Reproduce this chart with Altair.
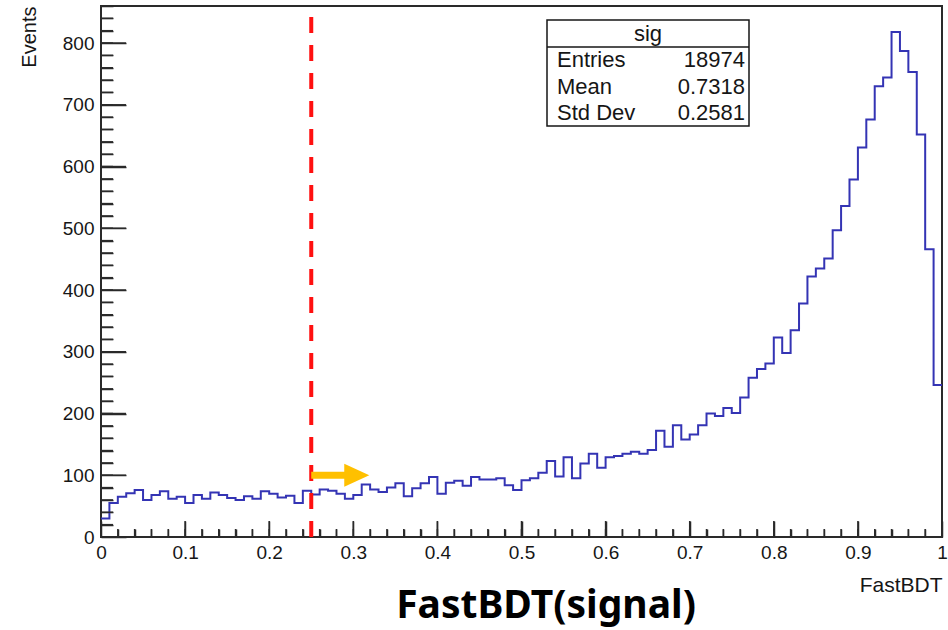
import altair as alt
import pandas as pd

# ---------------- data ----------------
counts = [30, 55, 65, 71, 76, 60, 68, 74, 62, 65,
          55, 68, 62, 72, 68, 63, 60, 66, 62, 74,
          70, 64, 67, 55, 75, 69, 77, 75, 70, 62,
          68, 85, 77, 73, 80, 87, 66, 79, 87, 97,
          70, 88, 91, 83, 97, 93, 93, 95, 84, 76,
          92, 95, 104, 123, 98, 129, 95, 119, 135, 112,
          129, 131, 135, 138, 135, 141, 172, 146, 181, 158,
          166, 181, 200, 196, 209, 201, 226, 258, 272, 281,
          323, 298, 335, 378, 422, 435, 451, 497, 536, 579,
          631, 676, 730, 744, 818, 787, 753, 652, 466, 246]
n_bins = 100
x_range = [0.0, 1.0]
y_max = 860

x_major = [round(0.1 * i, 1) for i in range(11)]
x_minor = [round(0.02 * i, 2) for i in range(51)]
y_major = list(range(0, 801, 100))
y_minor = list(range(0, 861, 20))

cut_x = [0.25]
arrow_x = [0.25, 0.319]
arrow_y = [100]

stat_title = ["sig"]
stat_names = ["Entries", "Mean", "Std Dev"]
stat_values = ["18974", "0.7318", "0.2581"]

title_text = ["FastBDT(signal)"]
x_title = "FastBDT"
y_title = "Events"

# ---------------- layout ----------------
W, H = 841, 531
PAD = {"left": 101, "top": 6, "right": 6, "bottom": 93}
FONT = "Liberation Sans"
BLUE = "#3434B4"
RED = "#FF1010"
ORANGE = "#FFC000"
INK = "#161616"
TICK = "#2a2a2a"
XT_MAJ, XT_MIN = 16, 8     # x tick lengths (px), drawn inward
YT_MAJ, YT_MIN = 25, 12    # y tick lengths (px), drawn inward

edges = [x_range[0] + (x_range[1] - x_range[0]) * i / n_bins for i in range(n_bins + 1)]
hist_df = pd.DataFrame({"x": edges, "n": counts + [counts[-1]]})

x_scale = alt.Scale(domain=x_range, nice=False, zero=False)
y_scale = alt.Scale(domain=[0, y_max], nice=False, zero=True)

x_is_major = "abs(datum.value * 10 - round(datum.value * 10)) < 1e-6"
y_is_major = "datum.value % 100 === 0 && datum.value <= 800"

# Axes are pulled inside the frame by their tick length, so ticks point inward;
# minor ticks are shortened with a leading dash gap.
X_AXIS = alt.Axis(
    orient="bottom", offset=-XT_MAJ, values=x_minor, format="~g",
    ticks=True, tickSize=XT_MAJ, tickColor=TICK, tickWidth=1.5,
    tickDash={"condition": {"test": "!(" + x_is_major + ")",
                            "value": [0, XT_MAJ - XT_MIN, XT_MIN]},
              "value": [1, 0]},
    labelExpr=x_is_major + " ? datum.label : ''",
    domain=False, grid=False, labelFont=FONT, labelFontSize=19, labelColor=INK,
    labelPadding=6, labelFlush=False, labelOverlap=False,
    title=x_title, titleFont=FONT, titleFontSize=21, titleFontWeight="normal",
    titleColor=INK, titleX=W, titleY=54 + XT_MAJ, titleAlign="right",
    titleBaseline="alphabetic")
Y_AXIS = alt.Axis(
    orient="left", offset=-YT_MAJ, values=y_minor,
    ticks=True, tickSize=YT_MAJ, tickColor=TICK, tickWidth=1.5,
    tickDash={"condition": {"test": "!(" + y_is_major + ")",
                            "value": [0, YT_MAJ - YT_MIN, YT_MIN]},
              "value": [1, 0]},
    labelExpr=y_is_major + " ? datum.label : ''",
    domain=False, grid=False, labelFont=FONT, labelFontSize=19, labelColor=INK,
    labelPadding=7, labelFlush=False, labelOverlap=False,
    title=y_title, titleFont=FONT, titleFontSize=20, titleFontWeight="normal",
    titleColor=INK, titleAngle=270, titleX=-66 - YT_MAJ, titleY=0,
    titleAlign="right", titleBaseline="alphabetic")


def X(field):
    return alt.X(field, scale=x_scale, axis=X_AXIS)


def Y(field):
    return alt.Y(field, scale=y_scale, axis=Y_AXIS)


hist = alt.Chart(hist_df).mark_line(
    interpolate="step-after", color=BLUE, strokeWidth=2
).encode(x=X("x:Q"), y=Y("n:Q"))


# extra inward tick marks drawn through the same scales (overlap the axis ticks)
def x_ticks(vals, length_px):
    span = length_px / H * y_max
    df = pd.DataFrame({"x": vals, "n": [0] * len(vals), "n2": [span] * len(vals)})
    return alt.Chart(df).mark_rule(color=TICK, strokeWidth=1.5).encode(
        x=X("x:Q"), y=Y("n:Q"), y2="n2:Q")


def y_ticks(vals, length_px):
    span = length_px / W * (x_range[1] - x_range[0])
    df = pd.DataFrame({"n": vals, "x": [x_range[0]] * len(vals),
                       "x2": [x_range[0] + span] * len(vals)})
    return alt.Chart(df).mark_rule(color=TICK, strokeWidth=1.5).encode(
        y=Y("n:Q"), x=X("x:Q"), x2="x2:Q")


ticks = [x_ticks(x_minor, XT_MIN), x_ticks(x_major, XT_MAJ),
         y_ticks(y_minor, YT_MIN), y_ticks(y_major, YT_MAJ)]

cut_df = pd.DataFrame({"x": cut_x, "n": [0]})
cut_line = alt.Chart(cut_df).mark_rule(
    color=RED, strokeWidth=4, strokeDash=[16, 12]
).encode(x=X("x:Q"), y=Y("n:Q"), y2=alt.value(10))

head_w = 25.0
head_center = arrow_x[1] - (head_w / 2) / W * (x_range[1] - x_range[0])
shaft_df = pd.DataFrame({"x": [arrow_x[0]], "x2": [head_center], "n": arrow_y})
shaft = alt.Chart(shaft_df).mark_rule(
    color=ORANGE, strokeWidth=7, strokeCap="butt"
).encode(x=X("x:Q"), x2="x2:Q", y=Y("n:Q"))
head_df = pd.DataFrame({"x": [head_center], "n": arrow_y})
head = alt.Chart(head_df).mark_point(
    shape="M-1,-0.92L1,0L-1,0.92Z", filled=True, size=head_w ** 2,
    color=ORANGE, opacity=1, strokeWidth=0
).encode(x=X("x:Q"), y=Y("n:Q"))

# ---------------- stats box ----------------
BX0, BX1, BY0, BY1, BSEP = 446, 648, 14, 120, 41
STAT_FS = 22
box_df = pd.DataFrame({"k": [0]})
box = alt.Chart(box_df).mark_rect(
    fill="white", stroke=INK, strokeWidth=1.5
).encode(
    x=alt.value(BX0), x2=alt.value(BX1), y=alt.value(BY0), y2=alt.value(BY1)
)
sep = alt.Chart(box_df).mark_rule(color=INK, strokeWidth=1.5).encode(
    x=alt.value(BX0), x2=alt.value(BX1), y=alt.value(BSEP)
)
stat_layers = [
    alt.Chart(pd.DataFrame({"t": stat_title})).mark_text(
        font=FONT, fontSize=STAT_FS, color=INK, align="center", baseline="middle"
    ).encode(text="t:N", x=alt.value((BX0 + BX1) / 2), y=alt.value(BY0 + 13.5))
]
row_h = (BY1 - BSEP) / len(stat_names)
for i, (nm, vl) in enumerate(zip(stat_names, stat_values)):
    yc = BSEP + row_h * (i + 0.5)
    stat_layers.append(
        alt.Chart(pd.DataFrame({"t": [nm]})).mark_text(
            font=FONT, fontSize=STAT_FS, color=INK, align="left", baseline="middle"
        ).encode(text="t:N", x=alt.value(BX0 + 10), y=alt.value(yc))
    )
    stat_layers.append(
        alt.Chart(pd.DataFrame({"t": [vl]})).mark_text(
            font=FONT, fontSize=STAT_FS, color=INK, align="right", baseline="middle"
        ).encode(text="t:N", x=alt.value(BX1 - 4), y=alt.value(yc))
    )

caption = alt.Chart(pd.DataFrame({"t": title_text})).mark_text(
    font="Noto Sans", fontSize=39, fontWeight="bold", color="#000000",
    align="center", baseline="alphabetic"
).encode(text="t:N", x=alt.value(445), y=alt.value(612))

chart = alt.layer(
    hist, cut_line, shaft, head, box, sep, *stat_layers, caption, *ticks
).properties(
    width=W, height=H, padding=PAD,
    autosize=alt.AutoSizeParams(type="none"),
    background="white",
).configure_view(
    stroke=TICK, strokeWidth=2
)

chart.save("out.html", embed_options={"renderer": "svg", "actions": False})
